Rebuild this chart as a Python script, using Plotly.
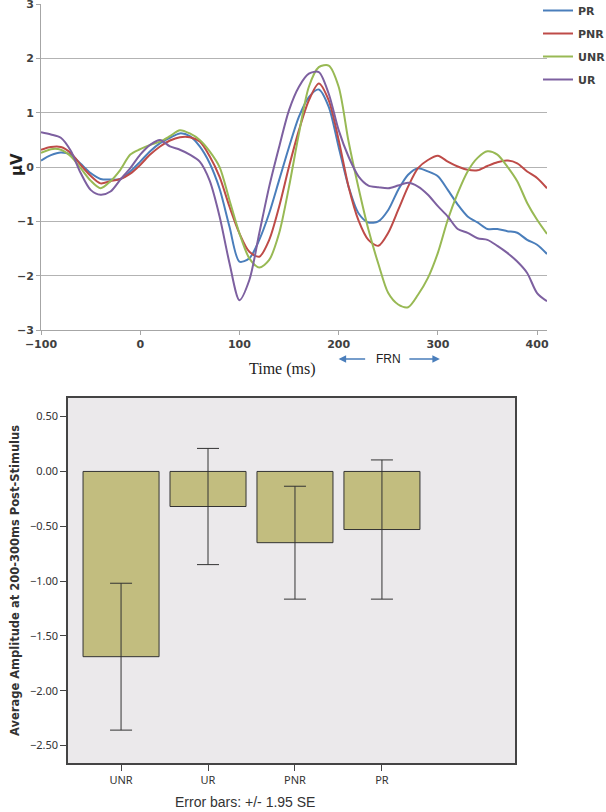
import plotly.graph_objects as go

# ERP waveforms (µV) sampled every 10 ms
time_ms = [-100, -90, -80, -70, -60, -50, -40, -30, -20, -10,
           0, 10, 20, 30, 40, 50, 60, 70, 80, 90,
           100, 110, 120, 130, 140, 150, 160, 170, 180, 190,
           200, 210, 220, 230, 240, 250, 260, 270, 280, 290,
           300, 310, 320, 330, 340, 350, 360, 370, 380, 390,
           400, 410]

pr = [0.12, 0.22, 0.27, 0.23, 0.06, -0.11, -0.22, -0.23, -0.22, -0.08,
      0.10, 0.29, 0.44, 0.54, 0.62, 0.57, 0.38, 0.07, -0.40, -1.10,
      -1.74, -1.68, -1.34, -0.85, -0.24, 0.37, 0.93, 1.29, 1.43, 1.11,
      0.37, -0.36, -0.85, -1.02, -1.00, -0.79, -0.42, -0.14, -0.02, -0.08,
      -0.17, -0.42, -0.69, -0.91, -1.02, -1.14, -1.14, -1.18, -1.21, -1.34,
      -1.43, -1.60]

pnr = [0.32, 0.37, 0.37, 0.26, 0.04, -0.16, -0.30, -0.26, -0.22, -0.12,
       0.04, 0.23, 0.38, 0.49, 0.55, 0.55, 0.47, 0.20, -0.18, -0.73,
       -1.22, -1.56, -1.65, -1.34, -0.73, 0.01, 0.68, 1.23, 1.54, 1.23,
       0.50, -0.36, -0.98, -1.34, -1.45, -1.21, -0.79, -0.36, -0.02, 0.13,
       0.21, 0.10, 0.01, -0.05, -0.06, 0.02, 0.09, 0.12, 0.07, -0.08,
       -0.20, -0.39]

unr = [0.26, 0.33, 0.32, 0.20, -0.02, -0.25, -0.39, -0.26, -0.05, 0.23,
       0.33, 0.41, 0.47, 0.57, 0.68, 0.62, 0.50, 0.29, 0.00, -0.61,
       -1.22, -1.68, -1.85, -1.71, -1.22, -0.36, 0.62, 1.48, 1.84, 1.87,
       1.48, 0.47, -0.38, -1.15, -1.78, -2.32, -2.53, -2.58, -2.35, -2.04,
       -1.58, -0.97, -0.48, -0.08, 0.17, 0.29, 0.23, 0.01, -0.26, -0.66,
       -0.97, -1.23]

ur = [0.64, 0.60, 0.54, 0.30, -0.11, -0.42, -0.51, -0.45, -0.23, -0.02,
      0.23, 0.41, 0.50, 0.38, 0.32, 0.23, 0.10, -0.25, -0.91, -1.77,
      -2.45, -2.08, -1.22, -0.36, 0.37, 1.05, 1.48, 1.72, 1.75, 1.35,
      0.68, 0.19, -0.17, -0.34, -0.37, -0.39, -0.34, -0.29, -0.36, -0.51,
      -0.72, -0.91, -1.14, -1.21, -1.31, -1.34, -1.45, -1.58, -1.74, -1.95,
      -2.32, -2.47]

# mean amplitude 200-300 ms, error = 1.95 SE
conditions = ["UNR", "UR", "PNR", "PR"]
mean_amp = [-1.69, -0.32, -0.65, -0.53]
err_amp = [0.67, 0.53, 0.515, 0.635]

W, H = 606, 812


def px_x(p):
    return p / W


def px_y(p):
    return 1 - p / H


fig = go.Figure()

series = [("PR", pr, "#4a7ebb"), ("PNR", pnr, "#be4b48"),
          ("UNR", unr, "#98b954"), ("UR", ur, "#7d60a0")]
for name, vals, col in series:
    fig.add_trace(go.Scatter(
        x=time_ms, y=vals, name=name, mode="lines",
        line=dict(color=col, width=2, shape="spline", smoothing=0.8),
        legendgroup=name, xaxis="x", yaxis="y",
    ))

fig.add_trace(go.Bar(
    x=conditions, y=mean_amp, width=0.874,
    marker=dict(color="#c2bd7f", line=dict(color="#333333", width=1)),
    error_y=dict(type="data", array=err_amp, color="#333333", thickness=1, width=11),
    showlegend=False, xaxis="x2", yaxis="y2",
))

tick_top = dict(family="DejaVu Sans", size=11, color="#404040", weight="bold")

fig.update_layout(
    width=W, height=H,
    margin=dict(l=0, r=0, t=0, b=0, autoexpand=False),
    paper_bgcolor="white",
    plot_bgcolor="white",
    showlegend=True,
    legend=dict(
        x=px_x(538), y=px_y(-4), xanchor="left", yanchor="top",
        font=dict(family="DejaVu Sans", size=11, color="#404040", weight="bold"),
        itemwidth=30, tracegroupgap=4, traceorder="grouped",
        bgcolor="rgba(0,0,0,0)",
    ),
    xaxis=dict(
        domain=[px_x(41), px_x(547)], range=[-100, 410],
        tickvals=[-100, 0, 100, 200, 300, 400],
        showgrid=False, zeroline=False, automargin=False,
        showline=True, linecolor="#a6a6a6", linewidth=1,
        ticks="outside", ticklen=4, tickcolor="#a6a6a6",
        tickfont=tick_top, anchor="y",
    ),
    yaxis=dict(
        domain=[px_y(330), px_y(4)], range=[-3, 3.003],
        tickvals=[-3, -2, -1, 0, 1, 2, 3],
        showgrid=True, gridcolor="#b3b3b3", gridwidth=1,
        zeroline=False, automargin=False, ticklabeloverflow="allow",
        showline=True, linecolor="#a6a6a6", linewidth=1,
        ticks="outside", ticklen=4, tickcolor="#a6a6a6",
        tickfont=tick_top, anchor="x",
    ),
    xaxis2=dict(
        domain=[px_x(68), px_x(515)], range=[-0.61, 4.53],
        type="category", automargin=False,
        showgrid=False, zeroline=False,
        showline=True, mirror=True, linecolor="#444444", linewidth=1.5,
        ticks="outside", ticklen=6, tickcolor="#444444",
        tickfont=dict(family="Noto Sans", size=11, color="#333333"),
        anchor="y2",
    ),
    yaxis2=dict(
        domain=[px_y(763), px_y(398)], range=[-2.66, 0.67],
        tickvals=[0.5, 0.0, -0.5, -1.0, -1.5, -2.0, -2.5], tickformat=".2f",
        showgrid=False, zeroline=False, automargin=False,
        showline=True, mirror=True, linecolor="#444444", linewidth=1.5,
        ticks="outside", ticklen=6, tickcolor="#444444",
        tickfont=dict(family="Noto Sans", size=11, color="#333333"),
        title=dict(text="Average Amplitude at 200-300ms Post-Stimulus",
                   font=dict(family="DejaVu Sans", size=11.5, color="#333333", weight="bold"),
                   standoff=8),
        anchor="x2",
    ),
)

# axis labels for the waveform panel
fig.add_annotation(text="µV", x=px_x(17), y=px_y(165), xref="paper", yref="paper",
                   xanchor="center", yanchor="middle",
                   textangle=-90, showarrow=False,
                   font=dict(family="DejaVu Sans", size=15, color="#222222", weight="bold"))
fig.add_annotation(text="Time (ms)", x=px_x(282), y=px_y(369), xref="paper", yref="paper",
                   xanchor="center", yanchor="middle", showarrow=False,
                   font=dict(family="Liberation Serif", size=16, color="#222222"))

# FRN window marker
fig.add_annotation(text="FRN", x=px_x(388), y=px_y(359), xref="paper", yref="paper",
                   xanchor="center", yanchor="middle", showarrow=False,
                   font=dict(family="Liberation Sans", size=12, color="#222222"))
fig.add_annotation(text="", x=200, y=px_y(359), xref="x", yref="paper",
                   ax=28, ay=0, showarrow=True, arrowhead=2, arrowsize=1,
                   arrowwidth=1.5, arrowcolor="#4a7ebb")
fig.add_annotation(text="", x=302, y=px_y(359), xref="x", yref="paper",
                   ax=-32, ay=0, showarrow=True, arrowhead=2, arrowsize=1,
                   arrowwidth=1.5, arrowcolor="#4a7ebb")

# error-bar note under the bar chart
fig.add_annotation(text="Error bars: +/- 1.95 SE", x=px_x(245), y=px_y(802),
                   xref="paper", yref="paper", xanchor="center", yanchor="middle",
                   showarrow=False,
                   font=dict(family="Liberation Sans", size=14, color="#333333"))

# shaded background of the bar panel
fig.add_shape(type="rect", xref="x2 domain", yref="y2 domain", x0=0, x1=1, y0=0, y1=1,
              fillcolor="#ebe9eb", line=dict(width=0), layer="below")

# drop the default page margin so the figure fills the window exactly
fig.write_html("out.html", config={"displayModeBar": False},
               post_script="document.body.style.margin='0';document.body.style.overflow='hidden';")
